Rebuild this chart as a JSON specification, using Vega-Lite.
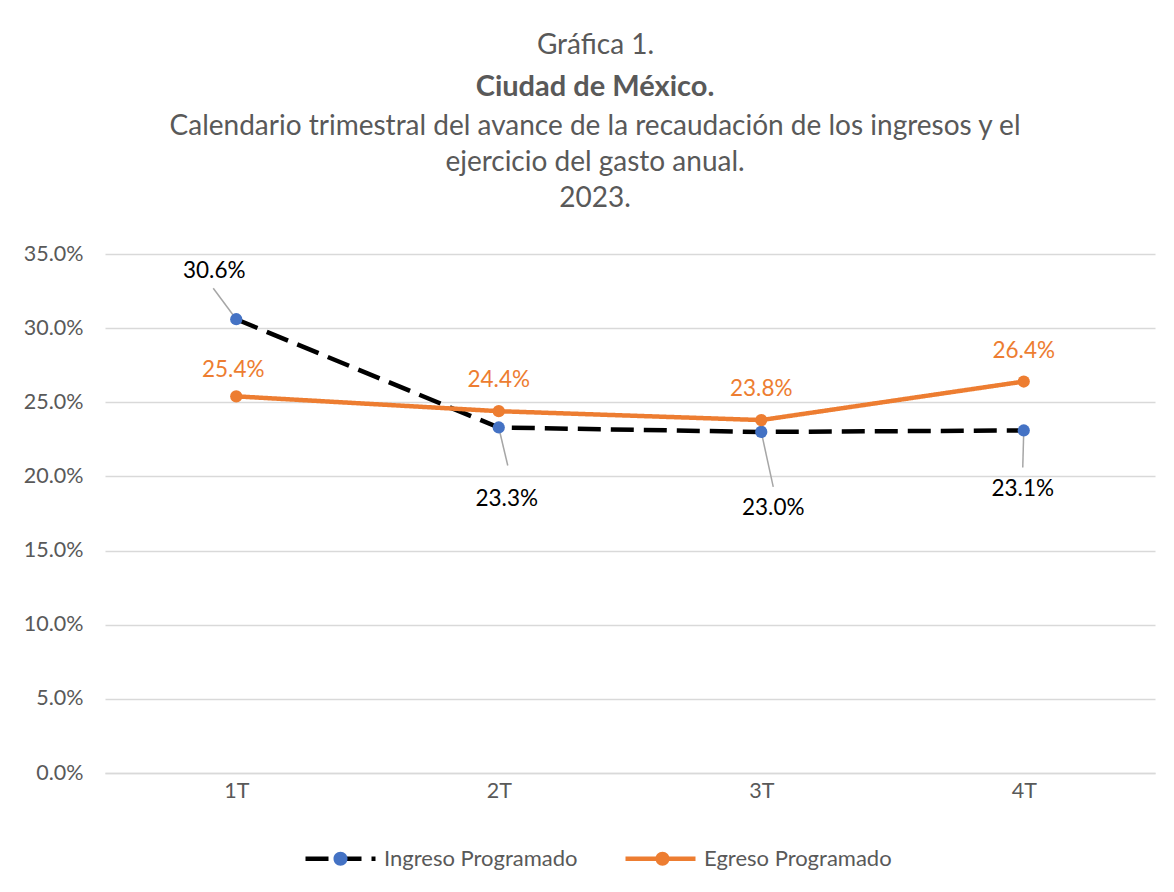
{
  "$schema": "https://vega.github.io/schema/vega-lite/v6.json",
  "width": 1050,
  "height": 519,
  "autosize": {"type": "none"},
  "padding": {"left": 105, "top": 254, "right": 19, "bottom": 119},
  "background": "white",
  "title": {
    "text": "Ciudad de México.",
    "subtitle": ["Calendario trimestral del avance de la recaudación de los ingresos y el", "ejercicio del gasto anual.", "2023."],
    "anchor": "middle",
    "dx": -35,
    "dy": 182,
    "offset": 0,
    "font": "Lato",
    "fontSize": 29,
    "fontWeight": "bold",
    "color": "#595959",
    "subtitleFont": "Lato",
    "subtitleFontSize": 28,
    "subtitleColor": "#595959",
    "subtitleLineHeight": 36,
    "subtitlePadding": 11
  },
  "data": {
    "values": [
      {"T": "1T", "serie": "Ingreso Programado", "v": 0.306},
      {"T": "2T", "serie": "Ingreso Programado", "v": 0.233},
      {"T": "3T", "serie": "Ingreso Programado", "v": 0.230},
      {"T": "4T", "serie": "Ingreso Programado", "v": 0.231},
      {"T": "1T", "serie": "Egreso Programado", "v": 0.254},
      {"T": "2T", "serie": "Egreso Programado", "v": 0.244},
      {"T": "3T", "serie": "Egreso Programado", "v": 0.238},
      {"T": "4T", "serie": "Egreso Programado", "v": 0.264}
    ]
  },
  "encoding": {
    "x": {
      "field": "T",
      "type": "ordinal",
      "scale": {"type": "point", "padding": 0.5},
      "axis": {
        "title": null,
        "labelAngle": 0,
        "labelFontSize": 21.5,
        "labelColor": "#595959",
        "labelPadding": 7,
        "ticks": false,
        "domain": true,
        "domainColor": "#D9D9D9",
        "domainWidth": 1.3,
        "grid": false
      }
    },
    "y": {
      "field": "v",
      "type": "quantitative",
      "scale": {"domain": [0, 0.35], "nice": false},
      "axis": {
        "title": "Gráfica 1.",
        "titleAngle": 0,
        "titleAlign": "center",
        "titleBaseline": "middle",
        "titleX": 490,
        "titleY": -209,
        "titleFont": "Lato",
        "titleFontSize": 28,
        "titleFontWeight": "normal",
        "titleColor": "#595959",
        "values": [0, 0.05, 0.1, 0.15, 0.2, 0.25, 0.3, 0.35],
        "format": ".1%",
        "labelFontSize": 21.5,
        "labelColor": "#595959",
        "labelPadding": 22,
        "ticks": false,
        "domain": false,
        "gridColor": "#D9D9D9",
        "gridWidth": 1.3
      }
    }
  },
  "layer": [
    {
      "transform": [{"filter": "datum.serie === 'Ingreso Programado'"}],
      "layer": [
        {"transform": [{"filter": "datum.T === '1T'"}], "layer": [
          {"mark": {"type": "rule", "color": "#A6A6A6", "strokeWidth": 1.5, "x2Offset": -23, "y2Offset": -31}, "encoding": {"x2": {"field": "T"}, "y2": {"field": "v"}}},
          {"mark": {"type": "text", "dx": -22, "dy": -48, "fontSize": 22.5, "color": "black", "baseline": "middle"}, "encoding": {"text": {"field": "v", "format": ".1%"}}}
        ]},
        {"transform": [{"filter": "datum.T === '2T'"}], "layer": [
          {"mark": {"type": "rule", "color": "#A6A6A6", "strokeWidth": 1.5, "x2Offset": 9, "y2Offset": 38}, "encoding": {"x2": {"field": "T"}, "y2": {"field": "v"}}},
          {"mark": {"type": "text", "dx": 8, "dy": 72, "fontSize": 22.5, "color": "black", "baseline": "middle"}, "encoding": {"text": {"field": "v", "format": ".1%"}}}
        ]},
        {"transform": [{"filter": "datum.T === '3T'"}], "layer": [
          {"mark": {"type": "rule", "color": "#A6A6A6", "strokeWidth": 1.5, "x2Offset": 12, "y2Offset": 55}, "encoding": {"x2": {"field": "T"}, "y2": {"field": "v"}}},
          {"mark": {"type": "text", "dx": 12, "dy": 76, "fontSize": 22.5, "color": "black", "baseline": "middle"}, "encoding": {"text": {"field": "v", "format": ".1%"}}}
        ]},
        {"transform": [{"filter": "datum.T === '4T'"}], "layer": [
          {"mark": {"type": "rule", "color": "#A6A6A6", "strokeWidth": 1.5, "x2Offset": -1, "y2Offset": 37}, "encoding": {"x2": {"field": "T"}, "y2": {"field": "v"}}},
          {"mark": {"type": "text", "dx": -1, "dy": 59, "fontSize": 22.5, "color": "black", "baseline": "middle"}, "encoding": {"text": {"field": "v", "format": ".1%"}}}
        ]}
      ]
    },
    {
      "transform": [{"filter": "datum.serie === 'Egreso Programado' && datum.T === '1T'"}],
      "mark": {"type": "text", "dx": -3, "dy": -26, "fontSize": 22.5, "color": "#ED7D31", "baseline": "middle"},
      "encoding": {"text": {"field": "v", "format": ".1%"}}
    },
    {
      "transform": [{"filter": "datum.serie === 'Egreso Programado' && datum.T !== '1T'"}],
      "mark": {"type": "text", "dy": -31, "fontSize": 22.5, "color": "#ED7D31", "baseline": "middle"},
      "encoding": {"text": {"field": "v", "format": ".1%"}}
    },
    {
      "mark": {"type": "line", "strokeWidth": 4.5, "strokeCap": "butt"},
      "encoding": {
        "detail": {"field": "serie"},
        "stroke": {
          "field": "serie", "type": "nominal",
          "scale": {"range": ["#ED7D31", "black"]},
          "legend": {
            "title": null,
            "orient": "none",
            "direction": "horizontal",
            "legendX": 198,
            "legendY": 567,
            "values": ["Ingreso Programado", "Egreso Programado"],
            "symbolType": "M-1,0H1",
            "symbolSize": 4900,
            "symbolStrokeWidth": 4.5,
            "labelFontSize": 22,
            "labelColor": "#595959",
            "labelOffset": 6,
            "labelLimit": 400,
            "columnPadding": 38
          }
        },
        "strokeDash": {
          "field": "serie", "type": "nominal",
          "scale": {"range": [[1, 0], [23, 10]]}
        }
      }
    },
    {
      "mark": {"type": "point", "filled": true, "opacity": 1, "size": 150},
      "encoding": {
        "fill": {
          "field": "serie", "type": "nominal",
          "scale": {"domain": ["Ingreso Programado", "Egreso Programado"], "range": ["#4472C4", "#ED7D31"]},
          "legend": {
            "title": null,
            "orient": "none",
            "direction": "horizontal",
            "legendX": 198,
            "legendY": 567,
            "symbolType": "M-1,0H1M-0.2,0A0.2,0.2,0,1,0,0.2,0A0.2,0.2,0,1,0,-0.2,0Z",
            "symbolSize": 4900,
            "symbolStrokeWidth": 4.5,
            "symbolStrokeColor": "transparent",
            "labelExpr": "''",
            "labelFontSize": 22,
            "labelOffset": 6,
            "columnPadding": 233
          }
        },
        "shape": {"value": "circle"}
      }
    }
  ],
  "config": {
    "font": "Lato",
    "view": {"stroke": null},
    "text": {"font": "Lato"}
  }
}
